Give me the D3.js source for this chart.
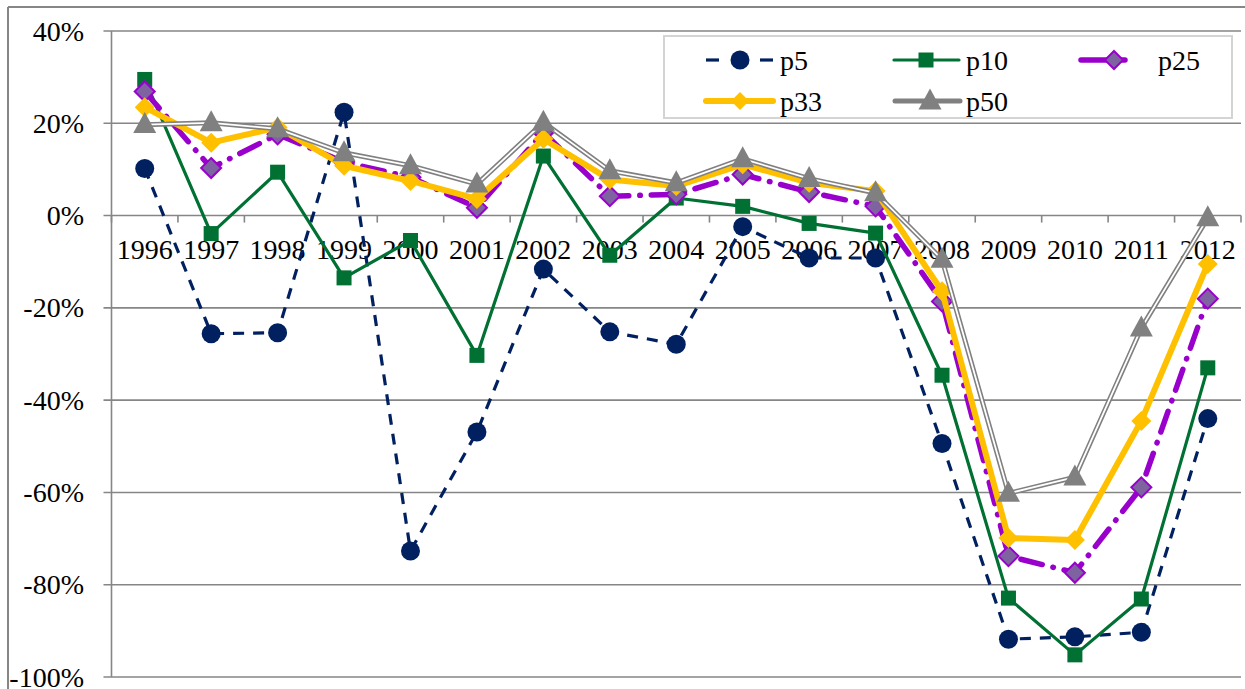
<!DOCTYPE html>
<html>
<head>
<meta charset="utf-8">
<script src="https://cdn.jsdelivr.net/npm/d3@7"></script>
<style>
html,body{margin:0;padding:0;background:#fff;}
svg{display:block;}
</style>
</head>
<body>
<svg id="chart" width="1245" height="689"></svg>
<script>
const years = ["1996","1997","1998","1999","2000","2001","2002","2003","2004","2005","2006","2007","2008","2009","2010","2011","2012"];
const p5  = [10.2,-25.6,-25.4,22.4,-72.7,-46.9,-11.6,-25.2,-27.9,-2.4,-9.2,-9.2,-49.4,-91.8,-91.3,-90.3,-44.0];
const p10 = [29.5,-3.9,9.4,-13.5,-5.4,-30.3,12.9,-8.6,3.8,2.0,-1.7,-3.8,-34.6,-82.9,-95.2,-83.1,-33.0];
const p25 = [26.9,10.3,17.6,11.6,8.3,1.7,18.0,4.2,4.6,8.9,5.1,2.0,-18.6,-73.8,-77.4,-58.9,-18.0];
const p33 = [23.5,15.8,19.1,10.8,7.5,3.6,16.6,7.8,6.4,11.1,7.1,5.3,-16.4,-69.9,-70.3,-44.5,-10.5];
const p50 = [19.7,20.1,18.8,13.6,10.8,6.8,20.2,9.7,7.1,12.3,8.0,4.9,-9.5,-60.2,-56.7,-24.4,-0.5];
const yTicks = [-100,-80,-60,-40,-20,0,20,40];
const seriesNames = ["p5","p10","p25","p33","p50"];

(function(){
const FONT = "'Liberation Serif', 'DejaVu Serif', serif";
const svg = d3.select("#chart");
const W = 1245, H = 689;
const pLeft = 111.5, pRight = 1241, pTop = 31, pBottom = 677;

const x = d3.scaleBand().domain(years).range([pLeft, pRight]).padding(0);
const cx = d => x(d) + x.bandwidth()/2;
const y = d3.scaleLinear().domain([-100, 40]).range([pBottom, pTop]);

const GRID = "#868686";

// outer frame
svg.append("line").attr("x1",8).attr("x2",W).attr("y1",7).attr("y2",7).attr("stroke",GRID).attr("stroke-width",2);
svg.append("line").attr("x1",8).attr("x2",8).attr("y1",7).attr("y2",H).attr("stroke",GRID).attr("stroke-width",2);

// gridlines
svg.append("g").selectAll("line").data(yTicks).join("line")
  .attr("x1", pLeft - 8).attr("x2", pRight)
  .attr("y1", d => y(d)).attr("y2", d => y(d))
  .attr("stroke", GRID).attr("stroke-width", 1.6);

// y axis line
svg.append("line").attr("x1", pLeft).attr("x2", pLeft).attr("y1", pTop).attr("y2", pBottom)
  .attr("stroke", GRID).attr("stroke-width", 1.6);

// y labels
svg.append("g").selectAll("text").data(yTicks).join("text")
  .attr("x", 84).attr("y", d => y(d) + 9.5)
  .attr("text-anchor","end")
  .attr("font-family", FONT).attr("font-size", 28).attr("fill", "#000")
  .text(d => d + "%");

// x ticks at band boundaries along 0 line
const bounds = years.map(d => x(d)).concat([pRight]);
svg.append("g").selectAll("line").data(bounds).join("line")
  .attr("x1", d => d).attr("x2", d => d)
  .attr("y1", y(0)).attr("y2", y(0) + 7)
  .attr("stroke", GRID).attr("stroke-width", 1.6);

// x labels
svg.append("g").selectAll("text").data(years).join("text")
  .attr("x", d => cx(d)).attr("y", y(0) + 43)
  .attr("text-anchor","middle")
  .attr("font-family", FONT).attr("font-size", 28).attr("fill", "#000")
  .text(d => d);

const line = d3.line().x((d,i) => cx(years[i])).y(d => y(d));

const navy = "#002060", green = "#007033", purple = "#9900CC", gold = "#FFC000", gray = "#808080", diaFill = "#7F63A1";

function diamond(g, px, py, r, fill, stroke, sw){
  g.append("path").attr("d", `M${px},${py-r}L${px+r},${py}L${px},${py+r}L${px-r},${py}Z`)
   .attr("fill", fill).attr("stroke", stroke || "none").attr("stroke-width", sw || 0);
}
function triangle(g, px, py, w, h, fill){
  g.append("path").attr("d", `M${px},${py-h*0.6}L${px+w/2},${py+h*0.4}L${px-w/2},${py+h*0.4}Z`).attr("fill", fill);
}

// p5
const g5 = svg.append("g");
g5.append("path").attr("d", line(p5)).attr("fill","none").attr("stroke",navy).attr("stroke-width",3.2).attr("stroke-dasharray","11,9");
g5.selectAll("circle").data(p5).join("circle").attr("cx",(d,i)=>cx(years[i])).attr("cy",d=>y(d)).attr("r",9.5).attr("fill",navy);

// p10
const g10 = svg.append("g");
g10.append("path").attr("d", line(p10)).attr("fill","none").attr("stroke",green).attr("stroke-width",3.2).attr("stroke-linejoin","round");
g10.selectAll("rect").data(p10).join("rect").attr("x",(d,i)=>cx(years[i])-7.5).attr("y",d=>y(d)-7.5).attr("width",15).attr("height",15).attr("fill",green);

// p25
const g25 = svg.append("g");
g25.append("path").attr("d", line(p25)).attr("fill","none").attr("stroke",purple).attr("stroke-width",5.5)
  .attr("stroke-dasharray","22,11,0.5,11").attr("stroke-linecap","round").attr("stroke-linejoin","round");
p25.forEach((d,i) => diamond(g25, cx(years[i]), y(d), 10, diaFill, purple, 2));

// p33
const g33 = svg.append("g");
g33.append("path").attr("d", line(p33)).attr("fill","none").attr("stroke",gold).attr("stroke-width",6).attr("stroke-linejoin","round").attr("stroke-linecap","round");
p33.forEach((d,i) => diamond(g33, cx(years[i]), y(d), 10, gold));

// p50 (double line)
const g50 = svg.append("g");
g50.append("path").attr("d", line(p50)).attr("fill","none").attr("stroke",gray).attr("stroke-width",5).attr("stroke-linejoin","round");
g50.append("path").attr("d", line(p50)).attr("fill","none").attr("stroke","#fff").attr("stroke-width",1.8).attr("stroke-linejoin","round");
p50.forEach((d,i) => triangle(g50, cx(years[i]), y(d), 23, 21, gray));

// legend
const lg = svg.append("g");
lg.append("rect").attr("x",664).attr("y",36).attr("width",568).attr("height",82).attr("fill","#fff").attr("stroke","#d4d4d4").attr("stroke-width",2);
const legendRows = [
  {name: seriesNames[0], lx1: 706, lx2: 773, mx: 740, tx: 780, ty: 60},
  {name: seriesNames[1], lx1: 894, lx2: 959, mx: 926, tx: 966, ty: 60},
  {name: seriesNames[2], lx1: 1081, lx2: 1125, mx: 1114, tx: 1158, ty: 60},
  {name: seriesNames[3], lx1: 706, lx2: 773, mx: 740, tx: 780, ty: 101},
  {name: seriesNames[4], lx1: 895, lx2: 960, mx: 930, tx: 966, ty: 101}
];
legendRows.forEach(r => {
  const yy = r.ty;
  if (r.name === "p5") {
    lg.append("line").attr("x1",r.lx1).attr("x2",r.lx1+13).attr("y1",yy).attr("y2",yy).attr("stroke",navy).attr("stroke-width",3.2);
    lg.append("line").attr("x1",r.lx2-13).attr("x2",r.lx2).attr("y1",yy).attr("y2",yy).attr("stroke",navy).attr("stroke-width",3.2);
    lg.append("circle").attr("cx",r.mx).attr("cy",yy).attr("r",9.5).attr("fill",navy);
  } else if (r.name === "p10") {
    lg.append("line").attr("x1",r.lx1).attr("x2",r.lx2).attr("y1",yy).attr("y2",yy).attr("stroke",green).attr("stroke-width",3.2).attr("stroke-linecap","round");
    lg.append("rect").attr("x",r.mx-7.5).attr("y",yy-7.5).attr("width",15).attr("height",15).attr("fill",green);
  } else if (r.name === "p25") {
    lg.append("line").attr("x1",r.lx1).attr("x2",r.lx2).attr("y1",yy).attr("y2",yy).attr("stroke",purple).attr("stroke-width",5.5).attr("stroke-linecap","round");
    diamond(lg, r.mx, yy, 9, diaFill, purple, 2);
  } else if (r.name === "p33") {
    lg.append("line").attr("x1",r.lx1).attr("x2",r.lx2).attr("y1",yy).attr("y2",yy).attr("stroke",gold).attr("stroke-width",6).attr("stroke-linecap","round");
    diamond(lg, r.mx, yy, 9, gold);
  } else {
    lg.append("line").attr("x1",r.lx1).attr("x2",r.lx2).attr("y1",yy).attr("y2",yy).attr("stroke",gray).attr("stroke-width",5).attr("stroke-linecap","round");
    triangle(lg, r.mx, yy, 23, 21, gray);
  }
  lg.append("text").attr("x",r.tx).attr("y",yy + 9.5)
    .attr("font-family", FONT).attr("font-size",28).attr("fill","#000").text(r.name);
});
})();
</script>
</body>
</html>
